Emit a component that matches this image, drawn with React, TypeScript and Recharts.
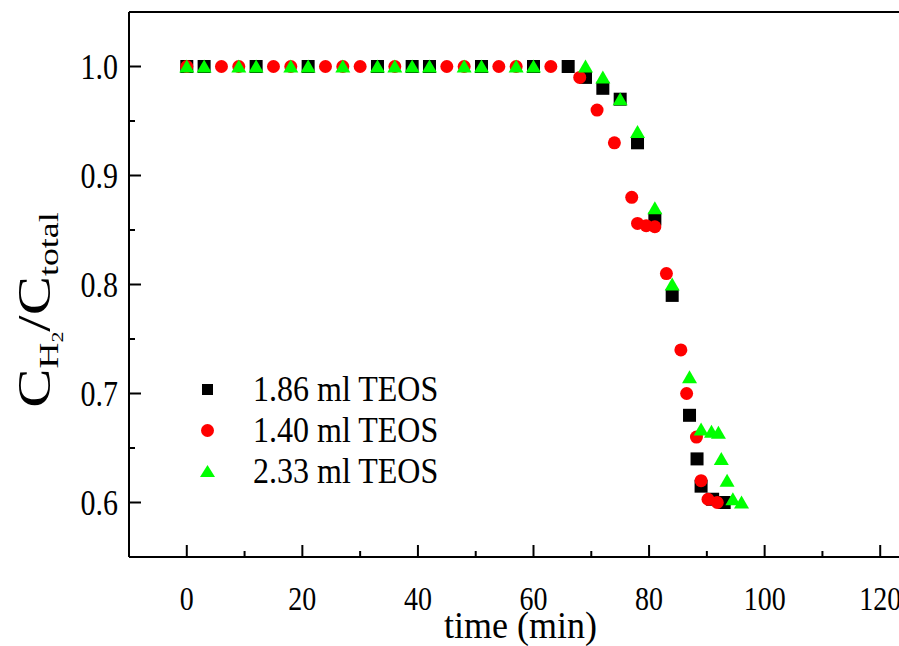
import { ScatterChart, Scatter, XAxis, YAxis, ReferenceLine, Legend } from 'recharts'

// time (min) / C_H2 / C_total
const seriesNames = ['1.86 ml TEOS', '1.40 ml TEOS', '2.33 ml TEOS']

const teos186Time = [0, 3, 12, 21, 33, 39, 42, 51, 60, 66, 69, 72, 75, 78, 81, 84, 87, 88.3, 89, 91, 93]
const teos186Ratio = [1, 1, 1, 1, 1, 1, 1, 1, 1, 1, 0.99, 0.98, 0.97, 0.93, 0.86, 0.79, 0.68, 0.64, 0.615, 0.603, 0.6]

const teos140Time = [0, 6, 9, 15, 18, 24, 27, 30, 36, 45, 48, 54, 57, 63, 68, 71, 74, 77, 78, 79.5, 81, 83, 85.5, 86.5, 88.2, 89, 90.2, 91.8]
const teos140Ratio = [1, 1, 1, 1, 1, 1, 1, 1, 1, 1, 1, 1, 1, 1, 0.99, 0.96, 0.93, 0.88, 0.856, 0.854, 0.853, 0.81, 0.74, 0.7, 0.66, 0.62, 0.603, 0.6]

const teos233Time = [0, 3, 9, 12, 18, 21, 27, 33, 36, 39, 42, 48, 51, 57, 60, 69, 72, 75, 78, 81, 84, 87, 89, 90.8, 92, 92.5, 93.5, 94.5, 96]
const teos233Ratio = [1, 1, 1, 1, 1, 1, 1, 1, 1, 1, 1, 1, 1, 1, 1, 1, 0.99, 0.97, 0.94, 0.87, 0.8, 0.715, 0.667, 0.665, 0.664, 0.64, 0.62, 0.603, 0.6]

const xTicks = [0, 10, 20, 30, 40, 50, 60, 70, 80, 90, 100, 110, 120, 130]
const yTicks = [0.6, 0.65, 0.7, 0.75, 0.8, 0.85, 0.9, 0.95, 1.0]

const FONT = '"Liberation Serif", "Times New Roman", serif'
const GREEN = '#00ff00'
// the source figure is stretched vertically, so the text is too
const STRETCH = 1.2

const toPoints = (xs: number[], ys: number[]) => xs.map((x, i) => ({ x, y: ys[i] }))

const SquareMark = ({ cx, cy }: any) => <rect x={cx - 6.5} y={cy - 6.5} width={13} height={13} fill="#000" />
const CircleMark = ({ cx, cy }: any) => <circle cx={cx} cy={cy} r={6.5} fill="#ff0000" />
const TriangleMark = ({ cx, cy }: any) => (
  <polygon points={`${cx},${cy - 7} ${cx - 7.5},${cy + 6} ${cx + 7.5},${cy + 6}`} fill={GREEN} />
)

function XTick({ x, y, payload }: any) {
  const major = payload.value % 20 === 0
  return (
    <g>
      <line x1={x} x2={x} y1={y} y2={y - (major ? 12 : 6)} stroke="#000" strokeWidth={2} />
      {major && (
        <text transform={`translate(${x}, ${y + 53}) scale(1, ${STRETCH})`} textAnchor="middle" fontSize={28} fontFamily={FONT} fill="#000">
          {payload.value}
        </text>
      )}
    </g>
  )
}

function YTick({ x, y, payload }: any) {
  const v = payload.value
  const major = Math.abs(v * 10 - Math.round(v * 10)) < 1e-6
  return (
    <g>
      <line x1={x} x2={x + (major ? 12 : 6)} y1={y} y2={y} stroke="#000" strokeWidth={2} />
      {major && (
        <text transform={`translate(${x - 11}, ${y}) scale(1, ${STRETCH})`} dy="0.35em" textAnchor="end" fontSize={30} fontFamily={FONT} fill="#000">
          {v.toFixed(1)}
        </text>
      )}
    </g>
  )
}

function YLabel() {
  return (
    <text transform="translate(50, 310) scale(1, 1.28) rotate(-90)" textAnchor="middle" fontFamily={FONT} fill="#000">
      <tspan fontSize={46}>C</tspan>
      <tspan fontSize={28} dy={8}>H</tspan>
      <tspan fontSize={17} dy={5}>2</tspan>
      <tspan fontSize={46} dy={-13}>/C</tspan>
      <tspan fontSize={28} dy={8}>total</tspan>
    </text>
  )
}

function XLabel({ viewBox }: any) {
  const cx = viewBox.x + viewBox.width / 2 - 13
  return (
    <text transform={`translate(${cx}, 638) scale(1, 1.03)`} textAnchor="middle" fontSize={36} fontFamily={FONT} fill="#000">
      time (min)
    </text>
  )
}

function LegendIcon({ type }: { type: string }) {
  if (type === 'square') return <rect x={6} y={6} width={11} height={11} fill="#000" />
  if (type === 'triangle') return <polygon points="11.5,5 4,17 19,17" fill={GREEN} />
  return <circle cx={11.5} cy={11.5} r={6.5} fill="#ff0000" />
}

function LegendContent({ payload }: any) {
  const items = [...(payload || [])].sort(
    (a: any, b: any) => seriesNames.indexOf(a.value) - seriesNames.indexOf(b.value)
  )
  return (
    <div>
      {items.map((entry: any) => (
        <div key={entry.value} style={{ display: 'flex', alignItems: 'center', height: 41 }}>
          <svg width={23} height={23}>
            <LegendIcon type={entry.type} />
          </svg>
          <span
            style={{
              display: 'inline-block',
              fontFamily: FONT,
              fontSize: 32,
              marginLeft: 34,
              color: '#000',
              lineHeight: 0.85,
              transform: 'scaleY(1.1)',
              whiteSpace: 'nowrap',
            }}
          >
            {entry.value}
          </span>
        </div>
      ))}
    </div>
  )
}

export default function App() {
  return (
    <div style={{ position: 'absolute', left: 0, top: 0, width: 899, height: 646, overflow: 'hidden', background: '#fff' }}>
      <ScatterChart width={950} height={646} margin={{ top: 12, right: 12, bottom: 0, left: 0 }}>
        <XAxis
          type="number"
          dataKey="x"
          domain={[-10, 130]}
          ticks={xTicks}
          interval={0}
          allowDataOverflow
          height={89}
          tickSize={0}
          tickMargin={0}
          tickLine={false}
          axisLine={{ stroke: '#000', strokeWidth: 2 }}
          tick={(p: any) => <XTick {...p} />}
          label={{ content: (p: any) => <XLabel {...p} /> }}
        />
        <YAxis
          type="number"
          dataKey="y"
          domain={[0.55, 1.05]}
          ticks={yTicks}
          interval={0}
          allowDataOverflow
          width={129}
          tickSize={0}
          tickMargin={0}
          tickLine={false}
          axisLine={{ stroke: '#000', strokeWidth: 2 }}
          tick={(p: any) => <YTick {...p} />}
          label={{ content: () => <YLabel /> }}
        />
        <ReferenceLine y={1.05} stroke="#000" strokeWidth={2} />
        <ReferenceLine x={130} stroke="#000" strokeWidth={2} />
        <Legend
          layout="vertical"
          align="center"
          verticalAlign="middle"
          content={(p: any) => <LegendContent {...p} />}
          wrapperStyle={{ left: 196, top: 369, width: 320 }}
        />
        <Scatter name={seriesNames[0]} data={toPoints(teos186Time, teos186Ratio)} legendType="square" fill="#000" shape={SquareMark} isAnimationActive={false} />
        <Scatter name={seriesNames[1]} data={toPoints(teos140Time, teos140Ratio)} legendType="circle" fill="#ff0000" shape={CircleMark} isAnimationActive={false} />
        <Scatter name={seriesNames[2]} data={toPoints(teos233Time, teos233Ratio)} legendType="triangle" fill={GREEN} shape={TriangleMark} isAnimationActive={false} />
      </ScatterChart>
    </div>
  )
}
